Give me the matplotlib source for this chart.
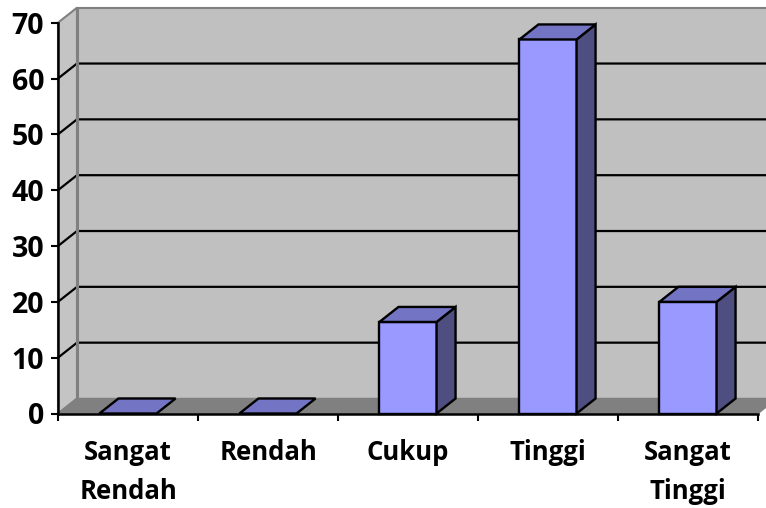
import matplotlib
matplotlib.use("Agg")
import matplotlib.pyplot as plt
from matplotlib.patches import Polygon

categories = ["Sangat\nRendah", "Rendah", "Cukup", "Tinggi", "Sangat\nTinggi"]
values = [0, 0, 16.4, 67.0, 20.0]
y_ticks = [0, 10, 20, 30, 40, 50, 60, 70]

W, H = 766, 508
fig = plt.figure(figsize=(W / 100, H / 100), dpi=100)
fig.patch.set_facecolor("white")
ax = fig.add_axes([58 / W, (H - 413.5) / H, 700 / W, (413.5 - 22.7) / H])
ax.set_xlim(0, len(categories))
ax.set_ylim(0, 70)
ax.patch.set_visible(False)

# depth offsets in data units
DX = 19 / 140
DY = 15 / (390.8 / 70)
n = len(categories)
ymax = 70

WALL = "#C0C0C0"
SIDE = "#C4C4C4"
FLOOR = "#808080"
EDGE = "#808080"
FRONT = "#9999FF"
TOP = "#7474C4"
RSIDE = "#4E4E80"

def poly(pts, fc, ec, lw, z):
    p = Polygon(pts, closed=True, facecolor=fc, edgecolor=ec, linewidth=lw,
                zorder=z, clip_on=False, joinstyle="miter")
    ax.add_patch(p)

# back wall
poly([(DX, DY), (n + DX, DY), (n + DX, ymax + DY), (DX, ymax + DY)], WALL, EDGE, 1.5, 1)
# side wall
poly([(0, 0), (DX, DY), (DX, ymax + DY), (0, ymax)], SIDE, EDGE, 1.5, 1.1)
# floor
poly([(0, 0), (n, 0), (n + DX, DY), (DX, DY)], FLOOR, EDGE, 1.0, 1.2)

# gridlines
for t in y_ticks[1:-1]:
    ax.plot([0, DX, n + DX], [t, t + DY, t + DY], color="black", lw=1.6,
            zorder=1.5, clip_on=False, solid_joinstyle="miter")
# back-wall left edge redrawn gray
ax.plot([DX, DX], [DY, ymax + DY], color=EDGE, lw=2.2, zorder=1.6, clip_on=False)

# bars
hw = 0.204
for i, v in enumerate(values):
    c = i + 0.5
    x0, x1 = c - hw, c + hw
    z = 3 + i * 0.01
    if v > 0:
        poly([(x0, 0), (x1, 0), (x1, v), (x0, v)], FRONT, "black", 1.7, z)
        poly([(x1, 0), (x1 + DX, DY), (x1 + DX, v + DY), (x1, v)], RSIDE, "black", 1.7, z)
    poly([(x0, v), (x1, v), (x1 + DX, v + DY), (x0 + DX, v + DY)], TOP, "black", 1.7, z)

# axes
for s in ["top", "right"]:
    ax.spines[s].set_visible(False)
for s in ["left", "bottom"]:
    ax.spines[s].set_linewidth(1.8)
    ax.spines[s].set_color("black")
    ax.spines[s].set_zorder(5)

FONT = ["Open Sans", "DejaVu Sans"]
ax.set_yticks(y_ticks)
ax.set_yticklabels([str(t) for t in y_ticks])
ax.set_xticks(range(n + 1))
ax.set_xticklabels([""] * (n + 1))
ax.set_xticks([i + 0.5 for i in range(n)], minor=True)
ax.set_xticklabels(categories, minor=True)
ax.tick_params(axis="y", direction="out", length=5, width=1.5, pad=5, labelsize=20.5)
ax.tick_params(axis="x", which="major", direction="out", length=5, width=1.5)
ax.tick_params(axis="x", which="minor", length=0, pad=18, labelsize=18.5)
for lab in ax.get_xticklabels(minor=True):
    lab.set_fontfamily(FONT)
    lab.set_fontweight("bold")
    lab.set_linespacing(1.6)
for lab in ax.get_yticklabels():
    lab.set_fontfamily(FONT)
    lab.set_fontweight("bold")

fig.savefig("out.png", dpi=100)
